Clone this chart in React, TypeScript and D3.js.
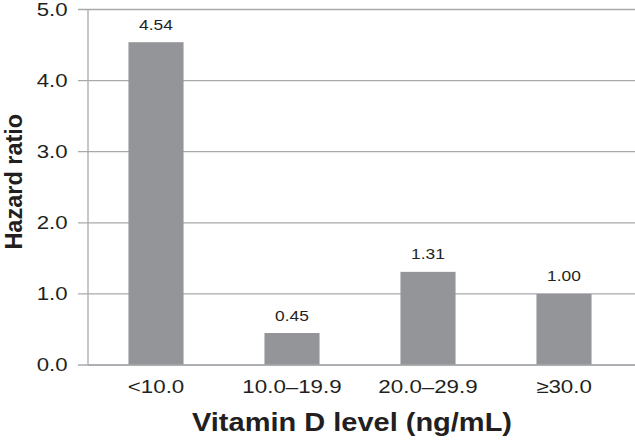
import React from "react";
import * as d3 from "d3";

const categories = ["<10.0", "10.0–19.9", "20.0–29.9", "≥30.0"];
const hazardRatios = [4.54, 0.45, 1.31, 1.0];
const valueLabels = ["4.54", "0.45", "1.31", "1.00"];
const yTicks = [0, 1, 2, 3, 4, 5];
const xTitle = "Vitamin D level (ng/mL)";
const yTitle = "Hazard ratio";

const W = 635;
const H = 440;
const left = 88;
const right = 632;
const top = 9.5;
const bottom = 365;

const FONT = "'Liberation Sans', Arial, Helvetica, sans-serif";
const TEXT = "#231f20";
const GRID = "#a7a9ac";
const BAR = "#939598";

export default function App() {
  const x = d3.scaleBand<string>().domain(categories).range([left, right]).paddingInner(0.595).paddingOuter(0.2975);
  const y = d3.scaleLinear().domain([0, 5]).range([bottom, top]);

  return (
    <svg width={W} height={H} style={{ position: "absolute", left: 0, top: 0, background: "#fff" }}>
      {yTicks.map((t) => (
        <g key={t}>
          <line x1={78} x2={W} y1={y(t)} y2={y(t)} stroke={GRID} strokeWidth={1.3} />
          <text
            transform={`translate(67.5,${y(t)}) scale(1.2,1)`}
            textAnchor="end"
            dominantBaseline="central"
            fontFamily={FONT}
            fontSize={18.5}
            fill={TEXT}
          >
            {t.toFixed(1)}
          </text>
        </g>
      ))}
      <line x1={left} x2={left} y1={top} y2={bottom} stroke={GRID} strokeWidth={1.3} />
      {categories.map((c, i) => (
        <g key={c}>
          <rect x={x(c)} y={y(hazardRatios[i])} width={x.bandwidth()} height={bottom - y(hazardRatios[i])} fill={BAR} />
          <text
            transform={`translate(${(x(c) as number) + x.bandwidth() / 2},${y(hazardRatios[i]) - 12.5}) scale(1.12,1)`}
            textAnchor="middle"
            fontFamily={FONT}
            fontSize={15.5}
            fill={TEXT}
          >
            {valueLabels[i]}
          </text>
          <text
            transform={`translate(${(x(c) as number) + x.bandwidth() / 2},393) scale(1.22,1)`}
            textAnchor="middle"
            fontFamily={FONT}
            fontSize={18.3}
            fill={TEXT}
          >
            {c}
          </text>
        </g>
      ))}
      <line x1={left} x2={W} y1={bottom} y2={bottom} stroke={GRID} strokeWidth={1.3} />
      <text
        transform={`translate(352,431) scale(1.16,1)`}
        textAnchor="middle"
        fontFamily={FONT}
        fontSize={25}
        fontWeight="bold"
        fill={TEXT}
      >
        {xTitle}
      </text>
      <text
        transform={`translate(22,181.7) rotate(-90)`}
        textAnchor="middle"
        fontFamily={FONT}
        fontSize={23.5}
        fontWeight="bold"
        fill={TEXT}
      >
        {yTitle}
      </text>
    </svg>
  );
}
